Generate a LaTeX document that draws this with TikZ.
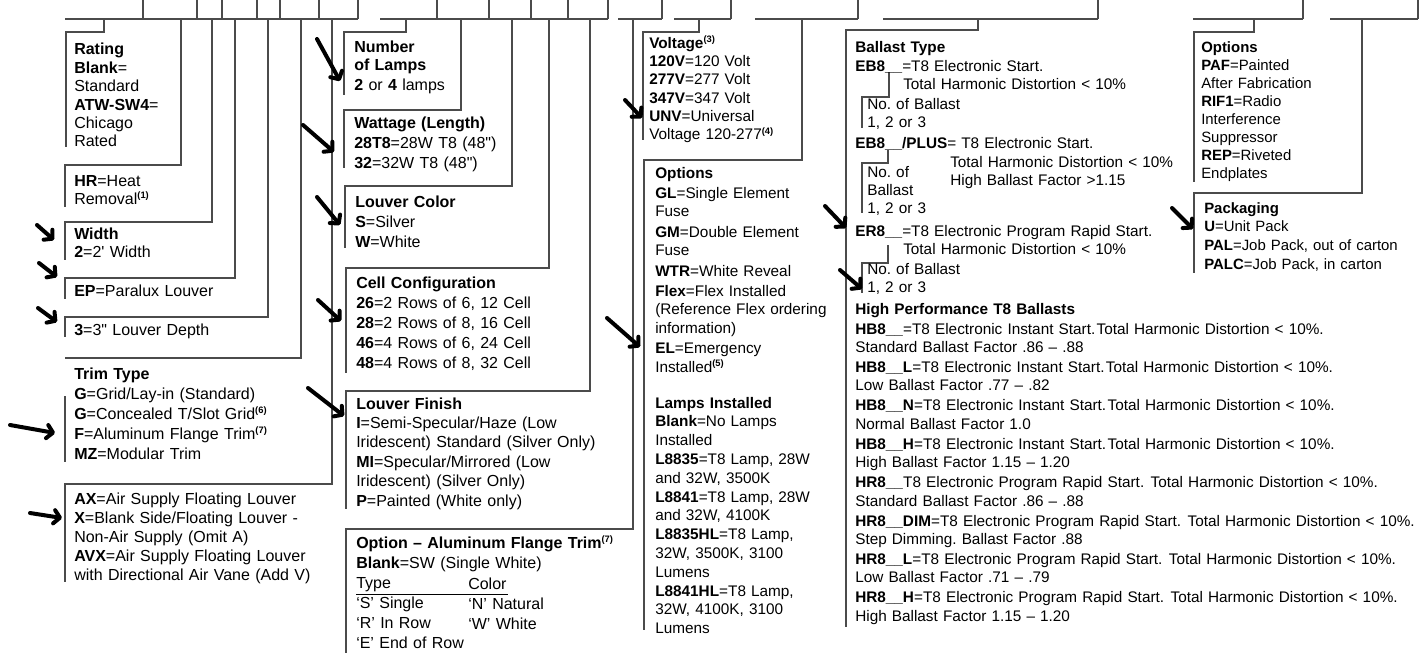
\documentclass[tikz,border=0pt]{standalone}
\usepackage{fontspec}
\setmainfont{Liberation Sans}
\usetikzlibrary{arrows.meta}
\definecolor{rulegray}{RGB}{75,75,75}
\tikzstyle{txt} = [inner sep=0pt, anchor=base west, align=left, text width=15cm, font=\fontsize{11.5}{13.8}\selectfont]
\tikzstyle{big} = [txt, font=\fontsize{12}{13.8}\selectfont]
\tikzstyle{bigloose} = [txt, font=\fontsize{12}{15}\selectfont]
\tikzstyle{rule} = [draw=rulegray, line width=0.9pt]
\tikzstyle{pointer} = [line width=3pt, line cap=round, -{Straight Barb[length=4.5pt,width=10pt,round]}]
\newcommand{\fn}[1]{\textsuperscript{\bfseries\fontsize{7}{7}\selectfont(#1)}}
\newcommand{\bracket}[4]{\draw[rule] (#1,19) |- (#3,#2) -- (#3,#4);}

\begin{document}
\frenchspacing
\begin{tikzpicture}[x=0.75pt, y=-0.75pt]
  \useasboundingbox (0,0) rectangle (1425,653);
  % Code bar
  \draw[rule] (65,19) -- (358,19) (380,19) -- (608,19) (618,19) -- (662,19)
              (674,19) -- (731,19) (755,19) -- (858,19) (883,19) -- (1098,19)
              (1193,19) -- (1303,19) (1330,19) -- (1418,19);
  \draw[rule] (143,0) -- (143,19) (197,0) -- (197,19) (222,0) -- (222,19)
              (257,0) -- (257,19) (280,0) -- (280,19) (319,0) -- (319,19)
              (358,0) -- (358,19) (437,0) -- (437,19) (489,0) -- (489,19)
              (531,0) -- (531,19) (568,0) -- (568,19) (608,0) -- (608,19)
              (662,0) -- (662,19) (731,0) -- (731,19) (858,0) -- (858,19)
              (1098,0) -- (1098,19) (1303,0) -- (1303,19) (1418,0) -- (1418,19);
  % Brackets
  \bracket{104}{32}{66}{147}
  \bracket{181}{165}{65}{207}
  \bracket{212}{222}{65}{260}
  \bracket{235}{278}{65}{299}
  \bracket{268}{317}{65}{337}
  \draw[rule] (301,19) |- (65,358);
  \draw[rule] (65,396) -- (65,462);
  \bracket{332}{484}{65}{582}
  \bracket{406}{32}{344}{95}
  \bracket{461}{110}{344}{168}
  \bracket{512}{186}{345}{248}
  \bracket{549}{268}{346}{373}
  \bracket{590}{391}{346}{509}
  \bracket{633}{529}{346}{653}
  \bracket{699}{32}{643}{140}
  \bracket{802}{160}{644}{630}
  \bracket{978}{30}{846}{627}
  \bracket{1254}{32}{1194}{182}
  \bracket{1362}{193}{1194}{273}
  \draw[rule] (889,72) -- (889,97) -- (862,97) -- (862,128);
  \draw[rule] (888,150) -- (888,163) -- (862,163) -- (862,213);
  \draw[rule] (888,245) -- (888,263) -- (862,263) -- (862,293);
  % Draw nodes
  \node[big] (rating) at (74,55) {\textbf{Rating}\\\textbf{Blank}=\\Standard\\\textbf{ATW-SW4}=\\Chicago\\Rated};
  \node[big] (heat) at (74,186) {\textbf{HR}=Heat\\Removal\fn{1}};
  \node[big] (width) at (74,239) {\textbf{Width}\\\textbf{2}=2\textquotesingle{} Width};
  \node[big] (paralux) at (74,296) {\textbf{EP}=Paralux Louver};
  \node[big] (depth) at (74,335) {\textbf{3}=3\textquotedbl{} Louver Depth};
  \node[bigloose] (trim) at (74,379) {\textbf{Trim Type}\\\textbf{G}=Grid/Lay-in (Standard)\\\textbf{G}=Concealed T/Slot Grid\fn{6}\\\textbf{F}=Aluminum Flange Trim\fn{7}\\\textbf{MZ}=Modular Trim};
  \node[big, font=\fontsize{12}{14.4}\selectfont] (airsupply) at (74,504) {\textbf{AX}=Air Supply Floating Louver\\\textbf{X}=Blank Side/Floating Louver -\\Non-Air Supply (Omit A)\\\textbf{AVX}=Air Supply Floating Louver\\with Directional Air Vane (Add V)};
  \node[big] (lamps) at (354,52) {\textbf{Number}\\\textbf{of Lamps}\\[1.5pt]\textbf{2} or \textbf{4} lamps};
  \node[bigloose] (wattage) at (354,128) {\textbf{Wattage (Length)}\\\textbf{28T8}=28W T8 (48\textquotedbl)\\\textbf{32}=32W T8 (48\textquotedbl)};
  \node[bigloose] (color) at (355,207) {\textbf{Louver Color}\\\textbf{S}=Silver\\\textbf{W}=White};
  \node[bigloose] (cells) at (356,288) {\textbf{Cell Configuration}\\\textbf{26}=2 Rows of 6, 12 Cell\\\textbf{28}=2 Rows of 8, 16 Cell\\\textbf{46}=4 Rows of 6, 24 Cell\\\textbf{48}=4 Rows of 8, 32 Cell};
  \node[big, font=\fontsize{12}{14.6}\selectfont] (finish) at (356,409) {\textbf{Louver Finish}\\\textbf{I}=Semi-Specular/Haze (Low\\Iridescent) Standard (Silver Only)\\\textbf{MI}=Specular/Mirrored (Low\\Iridescent) (Silver Only)\\\textbf{P}=Painted (White only)};
  \node[bigloose] (flange) at (356,548) {\textbf{Option -- Aluminum Flange Trim}\fn{7}\\\textbf{Blank}=SW (Single White)\\Type\\‘S’ Single\\‘R’ In Row\\‘E’ End of Row};
  \node[bigloose] (flangecolor) at (468,589) {Color\\‘N’ Natural\\‘W’ White};
  \draw[line width=0.7pt] (356,594) -- (508,594);
  \node[txt] (voltage) at (649,48) {\textbf{Voltage}\fn{3}\\\textbf{120V}=120 Volt\\\textbf{277V}=277 Volt\\\textbf{347V}=347 Volt\\\textbf{UNV}=Universal\\Voltage 120-277\fn{4}};
  \node[txt] (options) at (655,178) {\textbf{Options}\\[1.5pt]\textbf{GL}=Single Element\\Fuse\\[1.5pt]\textbf{GM}=Double Element\\Fuse\\[1.5pt]\textbf{WTR}=White Reveal\\[1.5pt]\textbf{Flex}=Flex Installed\\(Reference Flex ordering\\information)\\[1.5pt]\textbf{EL}=Emergency\\Installed\fn{5}};
  \node[txt, font=\fontsize{11.5}{14.1}\selectfont] (lampsin) at (655,408) {\textbf{Lamps Installed}\\\textbf{Blank}=No Lamps\\Installed\\\textbf{L8835}=T8 Lamp, 28W\\and 32W, 3500K\\\textbf{L8841}=T8 Lamp, 28W\\and 32W, 4100K\\\textbf{L8835HL}=T8 Lamp,\\32W, 3500K, 3100\\Lumens\\\textbf{L8841HL}=T8 Lamp,\\32W, 4100K, 3100\\Lumens};
  \node[txt] (ballast) at (855,52) {\textbf{Ballast Type}};
  \node[txt] (eb) at (855,71) {\textbf{EB8\_\_}=T8 Electronic Start.};
  \node[txt] (ebthd) at (903,89) {Total Harmonic Distortion < 10\%};
  \node[txt] (ebno) at (867,109) {No. of Ballast\\1, 2 or 3};
  \node[txt] (ebplus) at (855,148) {\textbf{EB8\_\_/PLUS}= T8 Electronic Start.};
  \node[txt] (ebplusthd) at (950,167) {Total Harmonic Distortion < 10\%\\High Ballast Factor >1.15};
  \node[txt] (ebplusno) at (867,177) {No. of\\Ballast\\1, 2 or 3};
  \node[txt] (er) at (855,236) {\textbf{ER8\_\_}=T8 Electronic Program Rapid Start.};
  \node[txt] (erthd) at (903,254) {Total Harmonic Distortion < 10\%};
  \node[txt] (erno) at (867,274) {No. of Ballast\\1, 2 or 3};
  \node[txt] (highperf) at (855,314) {\textbf{High Performance T8 Ballasts}};
  \node[txt] (hb) at (855,334) {\textbf{HB8\_\_}=T8 Electronic Instant Start.\kern1pt Total Harmonic Distortion < 10\%.\\Standard Ballast Factor .86 -- .88\\[1.2pt]
    \textbf{HB8\_\_L}=T8 Electronic Instant Start.\kern1pt Total Harmonic Distortion < 10\%.\\Low Ballast Factor .77 -- .82\\[1.2pt]
    \textbf{HB8\_\_N}=T8 Electronic Instant Start.\kern1pt Total Harmonic Distortion < 10\%.\\Normal Ballast Factor 1.0\\[1.2pt]
    \textbf{HB8\_\_H}=T8 Electronic Instant Start.\kern1pt Total Harmonic Distortion < 10\%.\\High Ballast Factor 1.15 -- 1.20\\[1.2pt]
    \textbf{HR8\_\_}T8 Electronic Program Rapid Start.\ \kern1pt Total Harmonic Distortion < 10\%.\\Standard Ballast Factor .86 -- .88\\[1.2pt]
    \textbf{HR8\_\_DIM}=T8 Electronic Program Rapid Start.\ \kern1pt Total Harmonic Distortion < 10\%.\\Step Dimming. Ballast Factor .88\\[1.2pt]
    \textbf{HR8\_\_L}=T8 Electronic Program Rapid Start.\ \kern1pt Total Harmonic Distortion < 10\%.\\Low Ballast Factor .71 -- .79\\[1.2pt]
    \textbf{HR8\_\_H}=T8 Electronic Program Rapid Start.\ \kern1pt Total Harmonic Distortion < 10\%.\\High Ballast Factor 1.15 -- 1.20};
  \node[txt, font=\fontsize{11.2}{13.6}\selectfont] (extras) at (1201,52) {\textbf{Options}\\\textbf{PAF}=Painted\\After Fabrication\\\textbf{RIF1}=Radio\\Interference\\Suppressor\\\textbf{REP}=Riveted\\Endplates};
  \node[txt, font=\fontsize{11.2}{14}\selectfont] (packaging) at (1204,213) {\textbf{Packaging}\\\textbf{U}=Unit Pack\\\textbf{PAL}=Job Pack, out of carton\\\textbf{PALC}=Job Pack, in carton};
  % Draw arrows
  \draw[pointer] (317,39) -- (340,81);
  \draw[pointer] (303,125) -- (334,152);
  \draw[pointer] (317,197) -- (340,225);
  \draw[pointer] (318,300) -- (341,321);
  \draw[pointer] (308,388) -- (344,416);
  \draw[pointer] (37,225) -- (54,240);
  \draw[pointer] (39,263) -- (57,277);
  \draw[pointer] (38,308) -- (57,322);
  \draw[pointer] (10,425) -- (55,433);
  \draw[pointer] (30,513) -- (62,518);
  \draw[pointer] (625,100) -- (642,118);
  \draw[pointer] (607,318) -- (640,347);
  \draw[pointer] (825,206) -- (846,228);
  \draw[pointer] (840,270) -- (862,289);
  \draw[pointer] (1172,208) -- (1193,229);
\end{tikzpicture}
\end{document}
